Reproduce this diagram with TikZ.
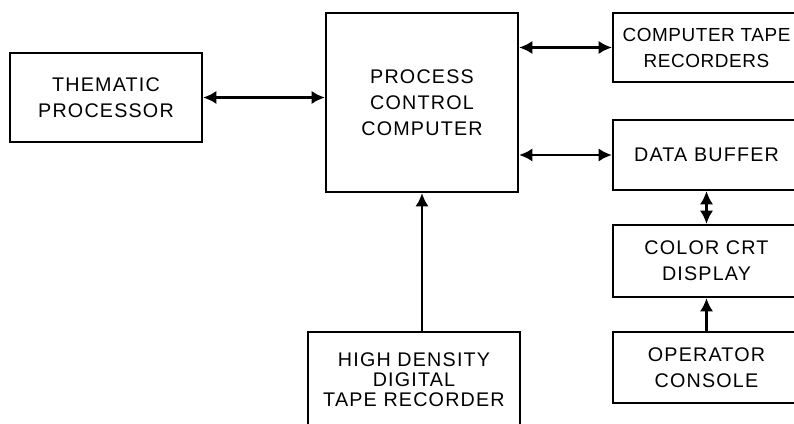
\documentclass[tikz,border=0pt]{standalone}
\usepackage{fontspec}
\setmainfont[LetterSpace=6]{Liberation Sans}
\usepackage{tikz}
\usetikzlibrary{arrows.meta, positioning, calc}
\tikzset{
    blockbox/.style={draw, rectangle, line width=1.6pt, align=center, inner sep=2pt, font=\fontsize{14.8}{19.5}\selectfont},
    sidebox/.style={blockbox, minimum width=140.25pt, minimum height=52.5pt},
    linkarrow/.style={line width=2.2pt, -{Latex[length=10pt,width=10pt]}},
    dualarrow/.style={line width=2.2pt, {Latex[length=10pt,width=10pt]}-{Latex[length=10pt,width=10pt]}},
}

\begin{document}
\begin{tikzpicture}[x=0.75pt, y=-0.75pt]
            \useasboundingbox (0,0) rectangle (794,424);
            \fill[white] (0,0) rectangle (794,424);
            \clip (0,0) rectangle (794,424);

            % Main computer
            \node[blockbox, minimum width=144pt, minimum height=134.25pt] (process) at (422, 102.5) {PROCESS\\CONTROL\\COMPUTER};

            % Left
            \node[blockbox, minimum width=144pt, minimum height=66.75pt] (thematic) at (106, 97.5) {THEMATIC\\PROCESSOR};

            % Bottom
            \node[blockbox, minimum width=159pt, minimum height=72pt, font=\fontsize{14.8}{15}\selectfont] (hddtr) at (414, 380) {HIGH DENSITY\\DIGITAL\\TAPE RECORDER};

            % Right column
            \node[sidebox, minimum height=51.75pt, font=\fontsize{14.2}{19.5}\selectfont\addfontfeatures{LetterSpace=3}] (tape) at (706.5, 47.5) {COMPUTER TAPE\\RECORDERS};
            \node[sidebox] (buffer) at (706.5, 155) {DATA BUFFER};
            \node[sidebox, minimum height=54pt] (crt) at (706.5, 261) {COLOR CRT\\DISPLAY};
            \node[sidebox, minimum height=53.25pt] (console) at (706.5, 367.5) {OPERATOR\\CONSOLE};

            \draw[dualarrow] (thematic.east) -- (thematic.east -| process.west);
            \draw[dualarrow] (process.east |- tape.west) -- (tape.west);
            \draw[dualarrow] (process.east |- buffer.west) -- (buffer.west);
            \draw[linkarrow] (process.south |- hddtr.north) -- (process.south);
            \draw[dualarrow] (buffer.south) -- (crt.north);
            \draw[linkarrow] (console.north) -- (crt.south);
        \end{tikzpicture}
\end{document}
